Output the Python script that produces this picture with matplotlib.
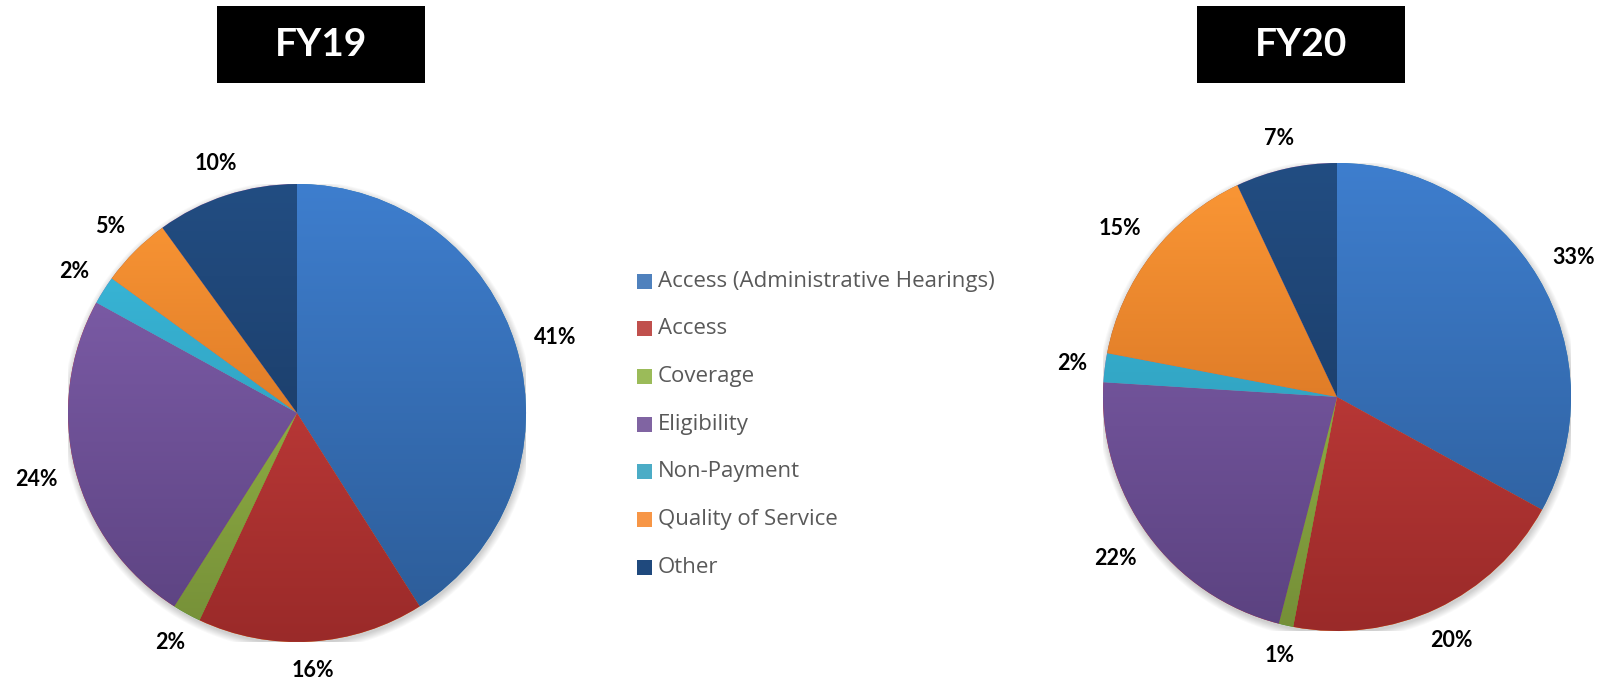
import matplotlib
matplotlib.use('Agg')
import matplotlib.pyplot as plt
import numpy as np
from matplotlib.colors import LinearSegmentedColormap
from matplotlib.patches import Rectangle, Circle

plt.rcParams['font.family'] = ['Lato', 'DejaVu Sans']

# Données : répartition des plaintes par catégorie (%)
categories = ['Access (Administrative Hearings)', 'Access', 'Coverage', 'Eligibility',
              'Non-Payment', 'Quality of Service', 'Other']
fy19 = [41, 16, 2, 24, 2, 5, 10]
fy20 = [33, 20, 1, 22, 2, 15, 7]

# couleurs de légende + dégradé (haut, bas) des secteurs
legend_colors = ['#4F81BD', '#C0504D', '#9BBB59', '#8064A2', '#4BACC6', '#F79646', '#1F497D']
top_colors = ['#3E7ECE', '#D44442', '#A4C64C', '#8462B0', '#3BBDE0', '#FC9836', '#224D82']
bottom_colors = ['#2C5B96', '#9A2A29', '#758F38', '#5B4280', '#2A8EA8', '#C4621A', '#18345A']

W, H = 1614, 684
fig = plt.figure(figsize=(W / 100, H / 100), dpi=100)


def draw_pie(values, cx, cy, r):
    ax = fig.add_axes([(cx - r) / W, 1 - (cy + r) / H, 2 * r / W, 2 * r / H])
    # ombre douce sous le camembert
    for k in range(8):
        ax.add_patch(Circle((0.004, -0.012), 1 + 0.004 * k, facecolor='#000000',
                            alpha=0.025, edgecolor='none', zorder=0))
    labels = ['%d%%' % v for v in values]
    wedges, texts = ax.pie(values, labels=labels, startangle=90, counterclock=False,
                           radius=1, labeldistance=1.17,
                           wedgeprops=dict(linewidth=0),
                           textprops=dict(ha='center', va='center', fontsize=15.5,
                                          fontweight='bold', color='black'))
    grad = np.linspace(1, 0, 256).reshape(-1, 1)
    for w, c0, c1 in zip(wedges, top_colors, bottom_colors):
        cmap = LinearSegmentedColormap.from_list('g', [c1, c0])
        im = ax.imshow(grad, extent=(-1, 1, -1, 1), cmap=cmap, vmin=0, vmax=1,
                       aspect='auto', zorder=w.get_zorder() + 0.1)
        im.set_clip_path(w)
    ax.set_xlim(-1, 1)
    ax.set_ylim(-1, 1)
    ax.axis('off')

    # étiquettes posées juste à l'extérieur du bord
    fig.canvas.draw()
    renderer = fig.canvas.get_renderer()
    for w, t in zip(wedges, texts):
        theta = np.deg2rad((w.theta1 + w.theta2) / 2)
        bb = t.get_window_extent(renderer)
        d = r + 17 + abs(np.cos(theta)) * bb.width / 2 + abs(np.sin(theta)) * bb.height / 2
        t.set_position((d / r * np.cos(theta), d / r * np.sin(theta)))
    return ax


draw_pie(fy19, 297, 413, 229)
draw_pie(fy20, 1337, 397, 234)

# titres dans des cadres noirs
for label, x0, x1 in [('FY19', 217, 425), ('FY20', 1197, 1405)]:
    fig.patches.append(Rectangle((x0 / W, 1 - 83 / H), (x1 - x0) / W, 77 / H,
                                 transform=fig.transFigure, facecolor='black',
                                 edgecolor='none'))
    fig.text((x0 + x1) / 2 / W, 1 - 45 / H, label, color='white', fontsize=28,
             fontweight='bold', ha='center', va='center')

# légende
for i, (name, col) in enumerate(zip(categories, legend_colors)):
    y = 281 + i * 47.7
    fig.patches.append(Rectangle((637 / W, 1 - (y + 7.5) / H), 15 / W, 15 / H,
                                 transform=fig.transFigure, facecolor=col,
                                 edgecolor='none'))
    fig.text(658 / W, 1 - y / H, name, color='#595959', fontsize=16,
             family=['Open Sans', 'DejaVu Sans'], ha='left', va='center')

plt.savefig('out.png', dpi=100)
plt.close()
